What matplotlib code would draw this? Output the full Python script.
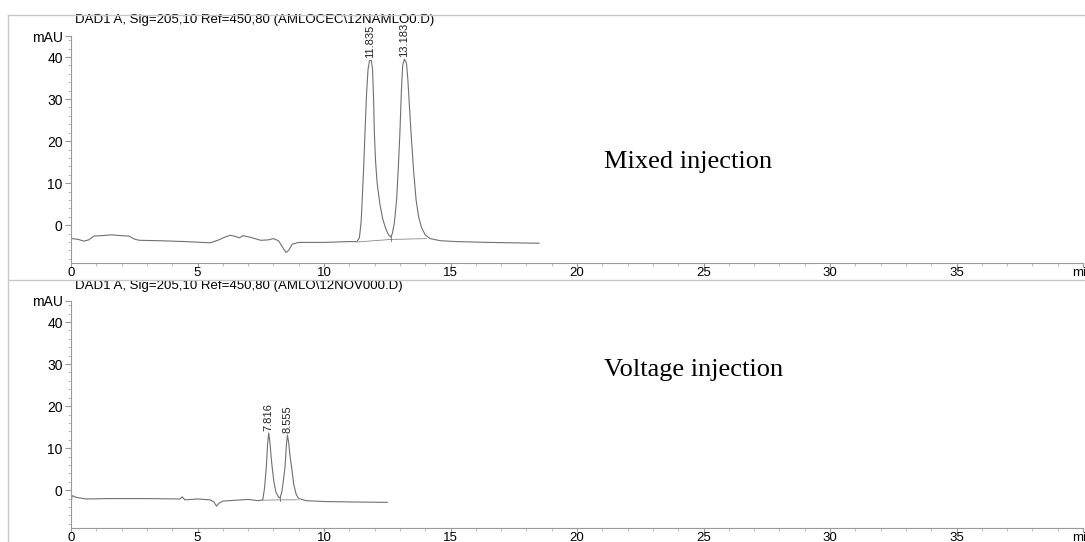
import numpy as np
import matplotlib.pyplot as plt
from matplotlib.lines import Line2D

# Chromatogram 1 - mixed injection (time in min, signal in mAU)
t_mixed = [0.00, 0.05, 0.30, 0.50, 0.70, 0.90, 1.20, 1.60, 2.00, 2.30, 2.50, 2.70,
           3.50, 4.50, 5.50, 5.80, 6.10, 6.30, 6.50, 6.65, 6.80, 7.10, 7.50, 7.80,
           8.00, 8.20, 8.40, 8.50, 8.60, 8.75, 9.00, 10.00, 11.00, 11.30, 11.40,
           11.47, 11.51, 11.57, 11.62, 11.68, 11.74, 11.80, 11.87, 11.92, 11.96,
           11.99, 12.04, 12.10, 12.21, 12.32, 12.45, 12.56, 12.64, 12.70, 12.78,
           12.87, 12.94, 13.00, 13.06, 13.11, 13.18, 13.26, 13.31, 13.37, 13.44,
           13.54, 13.64, 13.74, 13.85, 14.00, 14.20, 14.60, 15.20, 16.50, 18.50]
y_mixed = [-3.0, -3.2, -3.4, -3.8, -3.5, -2.6, -2.5, -2.3, -2.5, -2.6, -3.3, -3.6,
           -3.7, -3.9, -4.2, -3.6, -2.8, -2.4, -2.7, -3.0, -2.5, -2.9, -3.6, -3.5,
           -3.2, -3.7, -5.6, -6.5, -6.0, -4.5, -4.1, -4.1, -3.9, -3.9, -3.0,
           1.0, 6.0, 14.0, 22.0, 31.0, 37.0, 39.2, 39.2, 37.0, 30.0,
           22.0, 15.0, 10.0, 5.0, 1.5, -1.0, -2.4, -2.8, -2.0, 0.5,
           6.0, 14.0, 22.0, 32.0, 38.0, 39.5, 38.5, 35.0, 29.0, 22.0,
           13.0, 6.0, 2.0, -0.5, -2.3, -3.2, -3.7, -3.9, -4.1, -4.3]
rt_mixed = [11.835, 13.183]
base_t_mixed = [11.30, 12.64, 14.05]
base_y_mixed = [-4.0, -3.4, -3.2]

# Chromatogram 2 - voltage injection
t_volt = [0.00, 0.01, 0.04, 0.20, 0.60, 1.50, 3.00, 4.30, 4.40, 4.50, 5.00, 5.50,
          5.65, 5.75, 5.85, 6.00, 6.50, 7.00, 7.40, 7.58, 7.65, 7.72, 7.77, 7.816,
          7.86, 7.91, 7.95, 8.02, 8.10, 8.20, 8.26, 8.33, 8.40, 8.46, 8.51, 8.555,
          8.60, 8.66, 8.72, 8.80, 8.90, 9.00, 9.30, 10.00, 11.00, 12.50]
y_volt = [-1.4, -3.0, -1.3, -1.7, -2.1, -2.0, -2.0, -2.1, -1.6, -2.3, -2.1, -2.3,
          -2.8, -3.8, -3.1, -2.6, -2.4, -2.2, -2.5, -2.3, 0.5, 5.5, 11.0, 13.6,
          11.5, 8.0, 5.5, 2.0, -0.5, -1.6, -1.9, -0.5, 2.5, 5.5, 10.5, 13.1,
          11.5, 8.0, 5.5, 1.5, -1.0, -2.0, -2.5, -2.7, -2.8, -2.9]
rt_volt = [7.816, 8.555]
base_t_volt = [7.55, 8.26, 8.95]
base_y_volt = [-2.4, -2.3, -2.3]

titles = ['DAD1 A, Sig=205,10 Ref=450,80 (AMLOCEC\\12NAMLO0.D)',
          'DAD1 A, Sig=205,10 Ref=450,80 (AMLO\\12NOV000.D)']
notes = ['Mixed injection', 'Voltage injection']

xticks = [0, 5, 10, 15, 20, 25, 30, 35, 40]
xlabels = ['0', '5', '10', '15', '20', '25', '30', '35', 'min']
yticks = [0, 10, 20, 30, 40, 45]
ylabels = ['0', '10', '20', '30', '40', 'mAU']

plt.rcParams['font.family'] = ['Liberation Sans', 'DejaVu Sans']

fig = plt.figure(figsize=(10.85, 5.42), dpi=100)
W, H = 1085, 542

# outer frame lines
fig.add_artist(Line2D([8 / W, 1], [1 - 15 / H, 1 - 15 / H], color='#c8c8c8', lw=1))
fig.add_artist(Line2D([8 / W, 8 / W], [0, 1 - 15 / H], color='#c8c8c8', lw=1))
fig.add_artist(Line2D([8 / W, 1], [1 - 280 / H, 1 - 280 / H], color='#c8c8c8', lw=1))

ax1 = fig.add_axes([71 / W, 1 - 263 / H, (1083 - 71) / W, 227 / H])
ax2 = fig.add_axes([71 / W, 1 - 528 / H, (1083 - 71) / W, 227 / H])

panels = [(ax1, t_mixed, y_mixed, rt_mixed, base_t_mixed, base_y_mixed, 20, 0.445),
          (ax2, t_volt, y_volt, rt_volt, base_t_volt, base_y_volt, 286, 0.696)]

for i, (ax, t, y, rts, bt, by, title_px, note_y) in enumerate(panels):
    ax.plot(t, y, color='#707070', lw=0.8)
    ax.plot(bt, by, color='#8a8a8a', lw=0.6)
    # drop line at the valley
    ax.plot([bt[1], bt[1]], [by[1] - 0.3, np.interp(bt[1], t, y) + 0.3], color='#6e6e6e', lw=0.6)
    for rt in rts:
        top = np.interp(rt, t, y)
        ax.text(rt, top + 0.5, f'{rt:.3f}', rotation=90, ha='center', va='bottom',
                fontsize=8, color='#222222')
    ax.set_xlim(0, 40)
    ax.set_ylim(-9, 45)
    ax.set_xticks(xticks)
    ax.set_xticklabels(xlabels)
    ax.set_xticks(np.arange(0, 40, 1), minor=True)
    ax.set_yticks(yticks)
    ax.set_yticklabels(ylabels)
    ax.set_yticks(np.arange(-8, 45, 2), minor=True)
    for s in ['top', 'right']:
        ax.spines[s].set_visible(False)
    for s in ['left', 'bottom']:
        ax.spines[s].set_color('#9a9a9a')
        ax.spines[s].set_linewidth(0.8)
    ax.tick_params(which='major', length=4, color='#9a9a9a', labelsize=10)
    ax.tick_params(axis='x', which='major', length=3, pad=0, labelsize=9.5)
    ax.tick_params(axis='y', which='major', pad=2)
    ax.tick_params(which='minor', length=2.5, color='#b0b0b0')
    bottom_px = 263 if i == 0 else 528
    ax.text(4 / 1012, (bottom_px - title_px) / 227, titles[i], transform=ax.transAxes,
            fontsize=9.5, ha='left', va='center')
    ax.text(0.527, note_y, notes[i], transform=ax.transAxes,
            family='Liberation Serif', fontsize=19, ha='left', va='center')

fig.savefig('out.png', dpi=100)
